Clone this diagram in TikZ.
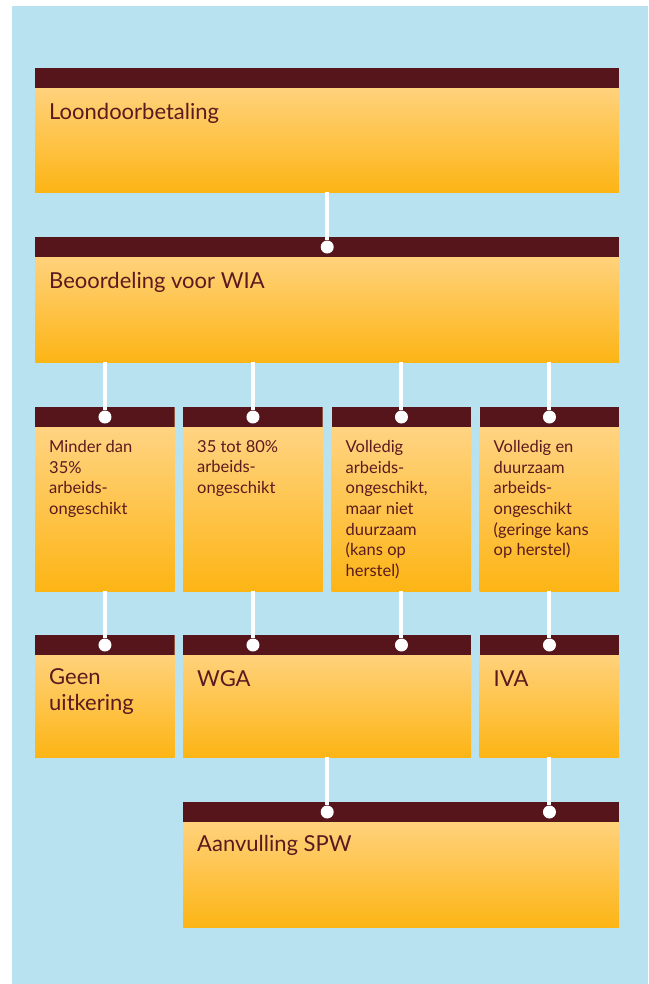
\documentclass[tikz,border=0pt]{standalone}
\usepackage{fontspec}
\setmainfont{Lato}
\usetikzlibrary{positioning}

\definecolor{lucht}{HTML}{B8E2EF}
\definecolor{bordeaux}{HTML}{55151B}
\definecolor{inkt}{HTML}{5B1A1F}
\definecolor{licht}{HTML}{FFD78F}
\definecolor{oranje}{HTML}{FDB515}

\tikzset{
  kaart/.style={rectangle, inner sep=0pt, anchor=north west,
    top color=licht, bottom color=oranje,
    path picture={\fill[bordeaux] (path picture bounding box.north west)
      rectangle ([yshift=-20pt]path picture bounding box.north east);}},
  groot/.style={text=inkt, font=\fontsize{22}{26}\selectfont,
    anchor=north west, align=left, inner sep=0pt, execute at begin node=\strut},
  klein/.style={text=inkt, font=\fontsize{16.5}{20.7}\selectfont,
    anchor=north west, align=left, inner sep=0pt, execute at begin node=\strut},
  punt/.style={circle, fill=white, minimum size=13pt, inner sep=0pt},
  lijn/.style={white, line width=4pt}
}

\begin{document}
\begin{tikzpicture}[x=1pt, y=-1pt]
    % achtergrond
    \fill[white] (0,0) rectangle (648,984);
    \fill[lucht] (12,6) rectangle (648,984);
    \useasboundingbox (0,0) rectangle (648,984);

    % kaarten
    \node[kaart, minimum width=584pt, minimum height=124pt] (loon) at (35,68) {};
    \node[kaart, minimum width=584pt, minimum height=125pt] (wia) at (35,237) {};
    \node[kaart, minimum width=139.5pt, minimum height=184pt] (minder) at (35,407) {};
    \node[kaart, minimum width=139.5pt, minimum height=184pt] (deels) at (183,407) {};
    \node[kaart, minimum width=139.5pt, minimum height=184pt] (volledig) at (331.5,407) {};
    \node[kaart, minimum width=139.5pt, minimum height=184pt] (duurzaam) at (479.5,407) {};
    \node[kaart, minimum width=139.5pt, minimum height=122pt] (geen) at (35,635) {};
    \node[kaart, minimum width=288pt, minimum height=122pt] (wga) at (183,635) {};
    \node[kaart, minimum width=139.5pt, minimum height=122pt] (iva) at (479.5,635) {};
    \node[kaart, minimum width=436pt, minimum height=125pt] (spw) at (183,802) {};

    % teksten
    \node[groot] (loontekst) at ([xshift=14pt, yshift=-33pt]loon.north west) {Loondoorbetaling};
    \node[groot] (wiatekst) at ([xshift=14pt, yshift=-33pt]wia.north west) {Beoordeling voor WIA};
    \node[klein] (mindertekst) at ([xshift=14pt, yshift=-33pt]minder.north west)
        {Minder dan\\35\%\\arbeids-\\ongeschikt};
    \node[klein] (deelstekst) at ([xshift=14pt, yshift=-33pt]deels.north west)
        {35 tot 80\%\\arbeids-\\ongeschikt};
    \node[klein] (volledigtekst) at ([xshift=14pt, yshift=-33pt]volledig.north west)
        {Volledig\\arbeids-\\ongeschikt,\\maar niet\\duurzaam\\(kans op\\herstel)};
    \node[klein] (duurzaamtekst) at ([xshift=14pt, yshift=-33pt]duurzaam.north west)
        {Volledig en\\duurzaam\\arbeids-\\ongeschikt\\(geringe kans\\op herstel)};
    \node[groot] (geentekst) at ([xshift=14pt, yshift=-33pt]geen.north west) {Geen\\uitkering};
    \node[groot] (wgatekst) at ([xshift=14pt, yshift=-33pt]wga.north west) {WGA};
    \node[groot] (ivatekst) at ([xshift=14pt, yshift=-33pt]iva.north west) {IVA};
    \node[groot] (spwtekst) at ([xshift=14pt, yshift=-31pt]spw.north west) {Aanvulling SPW};

    % punten
    \node[punt] (pwia) at ([yshift=-10pt]wia.north) {};
    \node[punt] (pminder) at ([yshift=-10pt]minder.north) {};
    \node[punt] (pdeels) at ([yshift=-10pt]deels.north) {};
    \node[punt] (pvolledig) at ([yshift=-10pt]volledig.north) {};
    \node[punt] (pduurzaam) at ([yshift=-10pt]duurzaam.north) {};
    \node[punt] (pgeen) at ([yshift=-10pt]geen.north) {};
    \node[punt] (pwgaa) at ([yshift=-10pt]wga.north -| deels.north) {};
    \node[punt] (pwgab) at ([yshift=-10pt]wga.north -| volledig.north) {};
    \node[punt] (piva) at ([yshift=-10pt]iva.north) {};
    \node[punt] (pspwa) at ([yshift=-10pt]spw.north -| wga.north) {};
    \node[punt] (pspwb) at ([yshift=-10pt]spw.north -| iva.north) {};

    % verbindingen
    \draw[lijn] (loon.south) -- (pwia);
    \draw[lijn] (wia.south -| pminder) -- (pminder);
    \draw[lijn] (wia.south -| pdeels) -- (pdeels);
    \draw[lijn] (wia.south -| pvolledig) -- (pvolledig);
    \draw[lijn] (wia.south -| pduurzaam) -- (pduurzaam);
    \draw[lijn] (minder.south) -- (pgeen);
    \draw[lijn] (deels.south) -- (pwgaa);
    \draw[lijn] (volledig.south) -- (pwgab);
    \draw[lijn] (duurzaam.south) -- (piva);
    \draw[lijn] (wga.south) -- (pspwa);
    \draw[lijn] (iva.south) -- (pspwb);
\end{tikzpicture}
\end{document}
